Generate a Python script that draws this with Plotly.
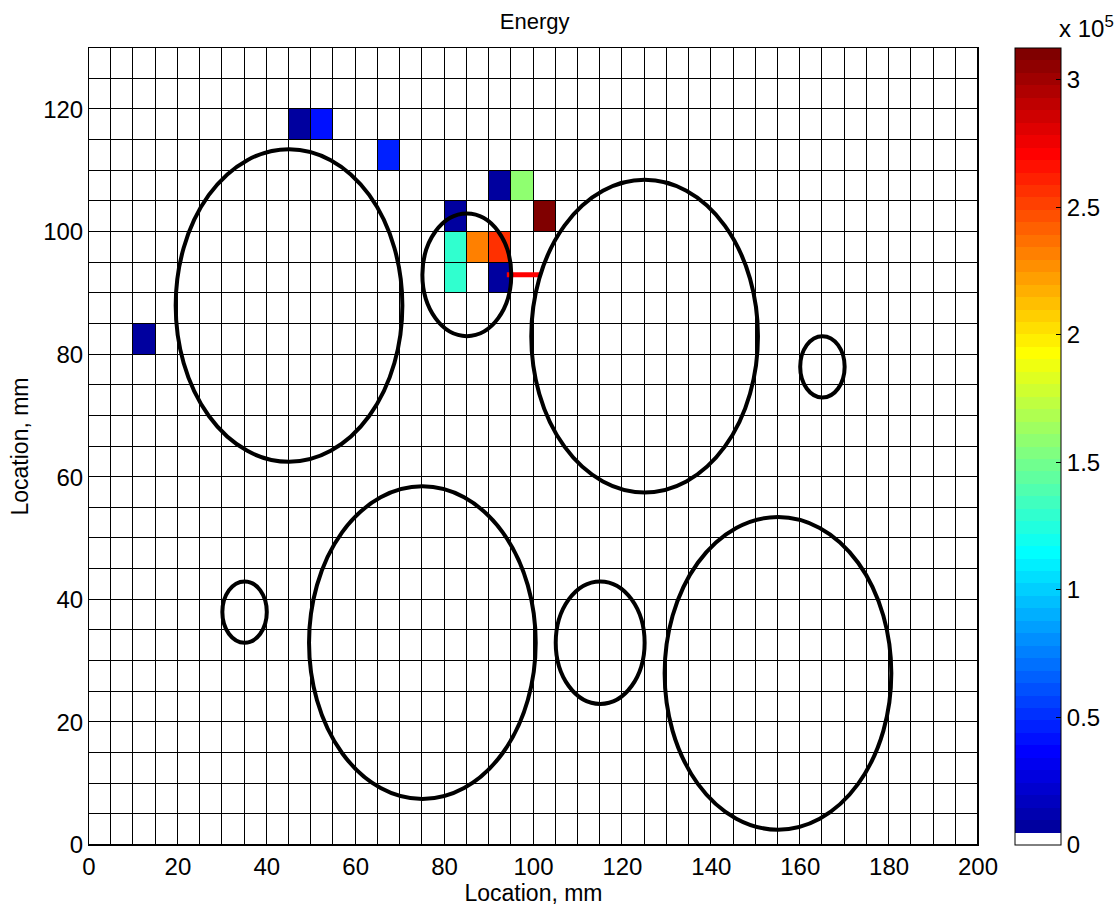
import numpy as np
import plotly.graph_objects as go

# Grid definition (mm)
cell_size = 5
x_max, y_max = 200, 130
z_max = 3.125e5

# Non-zero energy cells: lower-left corner (mm) and value
cell_x = [45, 50, 65, 10, 80, 90, 95, 100, 80, 80, 85, 90, 90]
cell_y = [115, 115, 110, 80, 100, 105, 105, 100, 95, 90, 95, 95, 90]
cell_val = [0.07e5, 0.42e5, 0.46e5, 0.07e5, 0.07e5, 0.07e5, 1.58e5,
            3.11e5, 1.29e5, 1.29e5, 2.32e5, 2.56e5, 0.07e5]

# Circular inclusions: centre (mm) and radius (mm)
circ_cx = [45, 85, 125, 165, 35, 75, 115, 155]
circ_cy = [88, 93, 83, 78, 38, 33, 33, 28]
circ_r = [25.5, 10, 25.5, 5, 5, 25.5, 10, 25.5]

# Red marker segment
seg_x = [94, 101.5]
seg_y = [93, 93]

colorbar_ticks = [0, 0.5e5, 1e5, 1.5e5, 2e5, 2.5e5, 3e5]
colorbar_labels = ["0", "0.5", "1", "1.5", "2", "2.5", "3"]


def jet(n=64):
    m = n // 4
    u = [k / m for k in range(1, m + 1)] + [1.0] * (m - 1) + [k / m for k in range(m, 0, -1)]
    g = [m // 2 + j for j in range(1, len(u) + 1)]
    J = np.zeros((n, 3))
    for idx, gi in enumerate(g):
        if gi <= n:
            J[gi - 1, 1] = u[idx]
        ri = gi + m
        if ri <= n:
            J[ri - 1, 0] = u[idx]
        bi = gi - m
        if bi >= 1:
            J[bi - 1, 2] = u[idx]
    return J


cmap = jet(64)
cmap[0] = [1, 1, 1]
colorscale = []
for i, c in enumerate(cmap):
    col = "rgb(%d,%d,%d)" % tuple(int(round(v * 255)) for v in c)
    colorscale.append([i / 64, col])
    colorscale.append([(i + 1) / 64, col])

nx, ny = x_max // cell_size, y_max // cell_size
xc = np.arange(nx) * cell_size + cell_size / 2
yc = np.arange(ny) * cell_size + cell_size / 2
z = np.zeros((ny, nx))
for cx, cy, v in zip(cell_x, cell_y, cell_val):
    z[cy // cell_size, cx // cell_size] = v

family = "Liberation Sans, Arial, sans-serif"
tick_font = dict(family=family, size=24, color="black")
label_font = dict(family=family, size=23, color="black")

fig = go.Figure()
fig.add_trace(go.Heatmap(
    x=xc, y=yc, z=z, zmin=0, zmax=z_max, colorscale=colorscale,
    xgap=1, ygap=1, hoverinfo="skip",
    colorbar=dict(
        x=1.0416, xanchor="left", xpad=0, y=0.5, yanchor="middle", ypad=0,
        len=1, lenmode="fraction",
        thickness=46, outlinecolor="black", outlinewidth=1,
        tickvals=colorbar_ticks, ticktext=colorbar_labels,
        ticks="inside", ticklen=5, tickcolor="black", tickfont=tick_font,
    ),
))
fig.add_trace(go.Scatter(x=seg_x, y=seg_y, mode="lines",
                         line=dict(color="red", width=5), showlegend=False, hoverinfo="skip"))

for cx, cy, r in zip(circ_cx, circ_cy, circ_r):
    fig.add_shape(type="circle", xref="x", yref="y",
                  x0=cx - r, x1=cx + r, y0=cy - r, y1=cy + r,
                  line=dict(color="black", width=4), layer="above")

# Colorbar exponent
fig.add_annotation(text="x 10<sup>5</sup>", xref="paper", yref="paper",
                   x=1.089, y=1.005, xanchor="left", yanchor="bottom",
                   showarrow=False, font=tick_font)

fig.update_layout(
    width=1115, height=906,
    margin=dict(l=89, r=137, t=48, b=61, autoexpand=False),
    paper_bgcolor="white", plot_bgcolor="black",
    font=tick_font, showlegend=False,
    title=dict(text="Energy", x=0.4795, xanchor="center", y=0.976, yanchor="middle",
               font=dict(family=family, size=22, color="black")),
)
fig.update_xaxes(range=[0, x_max], tick0=0, dtick=20, showgrid=False, zeroline=False,
                 showline=True, mirror=True, linecolor="black", linewidth=1,
                 ticks="", tickfont=tick_font, automargin=False,
                 title=dict(text="Location, mm", font=label_font, standoff=2))
fig.update_yaxes(range=[0, y_max], tick0=0, dtick=20, showgrid=False, zeroline=False,
                 showline=True, mirror=True, linecolor="black", linewidth=1,
                 ticks="", tickfont=tick_font, automargin=False,
                 title=dict(text="Location, mm", font=label_font, standoff=8))

fig.write_html("out.html")
